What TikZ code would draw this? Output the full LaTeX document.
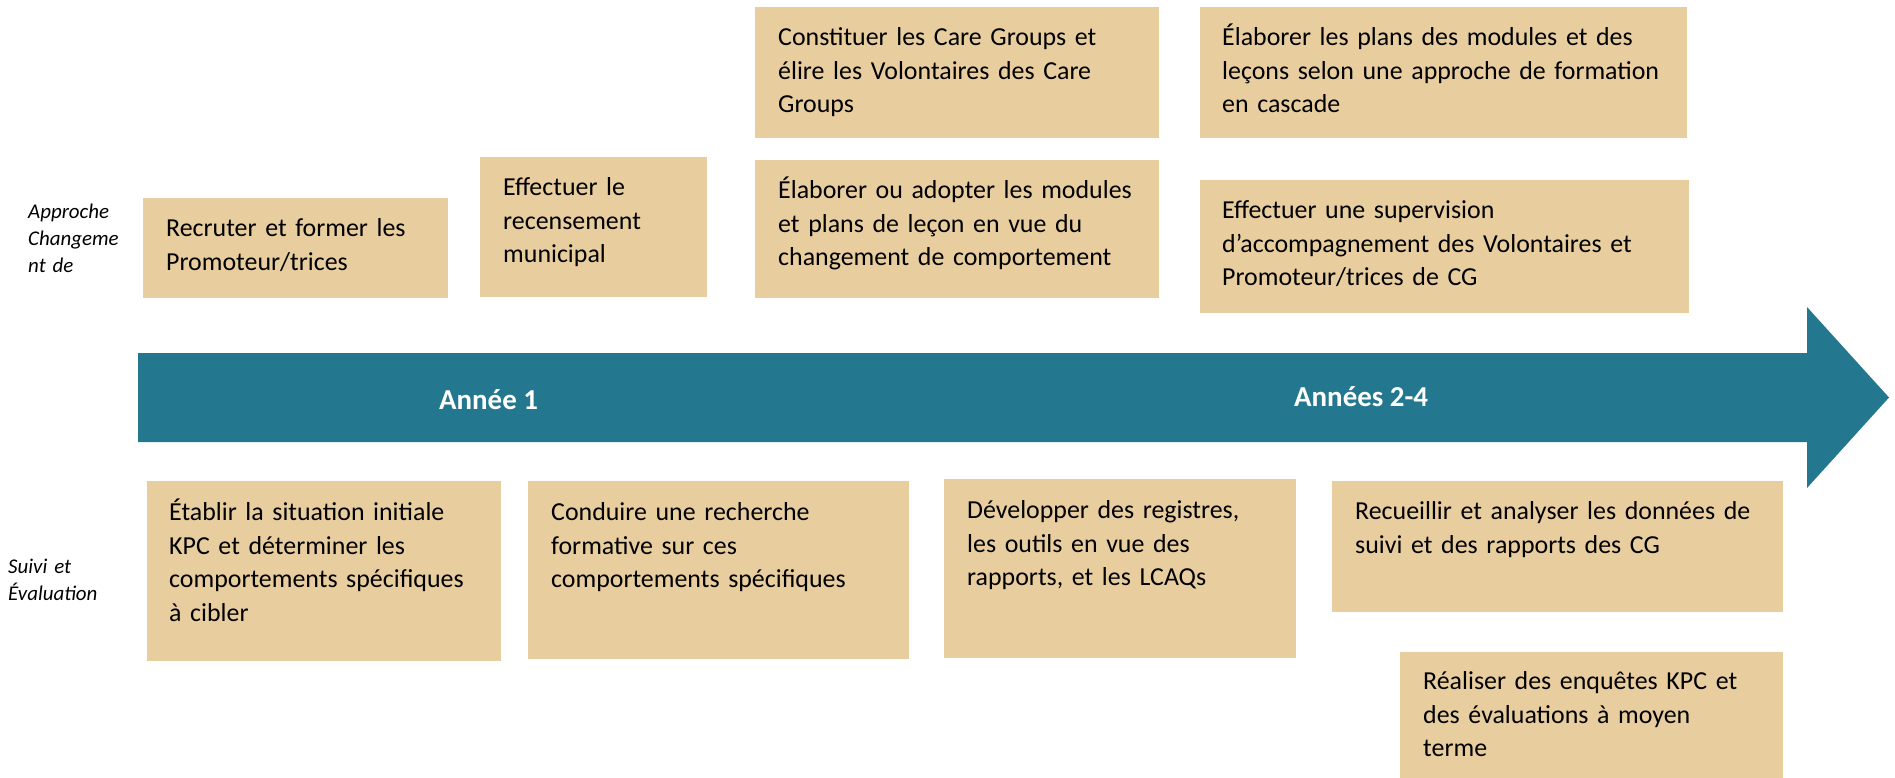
\documentclass[tikz,border=0pt]{standalone}
\usepackage{fontspec}
\setmainfont{Carlito}
\usetikzlibrary{calc}
\definecolor{boxtan}{RGB}{232,205,159}
\definecolor{arrowteal}{RGB}{35,120,143}
\newcommand{\boxstrut}{\rule{0pt}{26bp}}
\newcommand{\sidestrut}{\rule{0pt}{21bp}}
\begin{document}
\begin{tikzpicture}[x=1bp,y=-1bp,
  boxfill/.style={fill=boxtan, draw=none, inner sep=0, anchor=north west},
  boxtext/.style={anchor=north west, inner sep=0, align=left, text width=#1,
    font=\fontsize{26}{34}\selectfont},
  yearlbl/.style={anchor=base west, inner sep=0, text=white,
    font=\fontsize{29}{34}\selectfont\bfseries},
  sidelbl/.style={anchor=north west, inner sep=0, align=left, text width=130bp,
    font=\fontsize{21}{27.5}\selectfont\itshape}]
\useasboundingbox (0,0) rectangle (1895,778);

% timeline arrow
\fill[arrowteal] (138,353) -- (1807,353) -- (1807,307) -- (1889,397.5)
  -- (1807,488) -- (1807,442) -- (138,442) -- cycle;
\node[yearlbl] (y1) at (439,409) {Année 1};
\node[yearlbl] (y2) at (1294,406) {Années 2-4};

% side labels
\node[sidelbl] (s1) at (28,197) {\sidestrut Approche\\Changeme\\nt de};
\node[sidelbl] (s2) at (8,552) {\sidestrut Suivi et\\Évaluation};

% upper boxes
\node[boxfill, minimum width=305bp, minimum height=100bp] (b1) at (143,198) {};
\node[boxtext=300bp] (t1) at ($(b1.north west)+(23,12)$) {\boxstrut Recruter et former les\\Promoteur/trices};

\node[boxfill, minimum width=227bp, minimum height=140bp] (b2) at (480,157) {};
\node[boxtext=220bp] (t2) at ($(b2.north west)+(23,12)$) {\boxstrut Effectuer le\\recensement\\municipal};

\node[boxfill, minimum width=404bp, minimum height=131bp] (b3) at (755,7) {};
\node[boxtext=390bp] (t3) at ($(b3.north west)+(23,12)$) {\boxstrut Constituer les Care Groups et\\élire les Volontaires des Care\\Groups};

\node[boxfill, minimum width=404bp, minimum height=138bp] (b4) at (755,160) {};
\node[boxtext=390bp] (t4) at ($(b4.north west)+(23,12)$) {\boxstrut Élaborer ou adopter les modules\\et plans de leçon en vue du\\changement de comportement};

\node[boxfill, minimum width=487bp, minimum height=131bp] (b5) at (1200,7) {};
\node[boxtext=470bp] (t5) at ($(b5.north west)+(22,12)$) {\boxstrut Élaborer les plans des modules et des\\leçons selon une approche de formation\\en cascade};

\node[boxfill, minimum width=489bp, minimum height=133bp] (b6) at (1200,180) {};
\node[boxtext=470bp] (t6) at ($(b6.north west)+(22,12)$) {\boxstrut Effectuer une supervision\\d’accompagnement des Volontaires et\\Promoteur/trices de CG};

% lower boxes
\node[boxfill, minimum width=354bp, minimum height=180bp] (b7) at (147,481) {};
\node[boxtext=340bp] (t7) at ($(b7.north west)+(22,13)$) {\boxstrut Établir la situation initiale\\KPC et déterminer les\\comportements spécifiques\\à cibler};

\node[boxfill, minimum width=381bp, minimum height=178bp] (b8) at (528,481) {};
\node[boxtext=360bp] (t8) at ($(b8.north west)+(23,13)$) {\boxstrut Conduire une recherche\\formative sur ces\\comportements spécifiques};

\node[boxfill, minimum width=352bp, minimum height=179bp] (b9) at (944,479) {};
\node[boxtext=340bp] (t9) at ($(b9.north west)+(23,13)$) {\boxstrut Développer des registres,\\les outils en vue des\\rapports, et les LCAQs};

\node[boxfill, minimum width=451bp, minimum height=131bp] (b10) at (1332,481) {};
\node[boxtext=440bp] (t10) at ($(b10.north west)+(23,12)$) {\boxstrut Recueillir et analyser les données de\\suivi et des rapports des CG};

\node[boxfill, minimum width=383bp, minimum height=126bp] (b11) at (1400,652) {};
\node[boxtext=370bp] (t11) at ($(b11.north west)+(23,11)$) {\boxstrut Réaliser des enquêtes KPC et\\des évaluations à moyen\\terme};
\end{tikzpicture}
\end{document}
